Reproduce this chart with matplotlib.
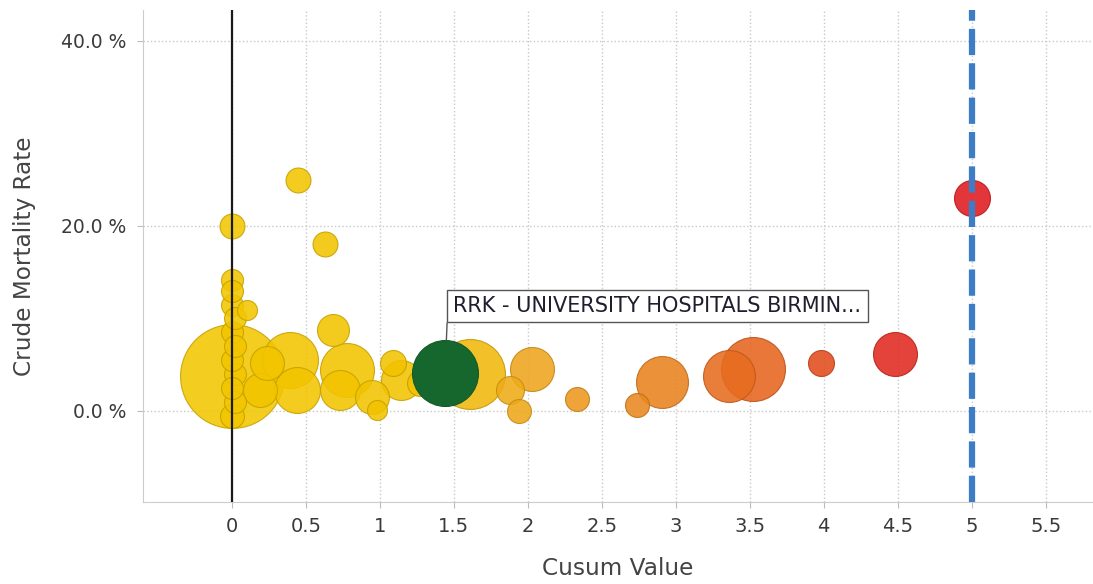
import numpy as np
import matplotlib.pyplot as plt
from matplotlib.colors import LinearSegmentedColormap, to_rgb
from matplotlib.ticker import FuncFormatter

plt.rcParams["font.family"] = ["DejaVu Sans"]

# 数据：Cusum 值、粗死亡率(%)、病例数(气泡大小)
cusum = [0.00, 0.00, 0.45, 0.63, 0.68, 0.10, 0.00, 0.00, 0.00, 0.02,
         0.00, 0.02, 0.00, 0.02, 0.00, 0.02, 0.00, 0.39, 0.44, 0.78,
         0.73, 0.95, 0.98, 1.14, 1.09, 1.27, 0.24, 0.19, 1.61, 1.44,
         1.88, 1.94, 2.03, 2.33, 2.74, 2.91, 3.36, 3.52, 3.98, 4.48, 5.00]
mortality = [3.8, 20.0, 25.0, 18.0, 8.8, 10.9, 14.2, 13.0, 11.5, 10.0,
             8.5, 7.0, 5.5, 4.0, 2.5, 1.0, -0.5, 5.5, 2.3, 4.4,
             2.3, 1.5, 0.1, 3.4, 5.2, 3.0, 5.2, 2.3, 4.0, 4.1,
             2.3, 0.0, 4.5, 1.3, 0.7, 3.1, 3.8, 4.5, 5.2, 6.2, 23.0]
cases = [2700, 156, 156, 156, 256, 100, 121, 121, 121, 121,
         121, 121, 121, 121, 121, 121, 144, 784, 529, 729,
         400, 289, 100, 400, 169, 169, 289, 289, 1225, 1089,
         196, 144, 484, 144, 144, 676, 676, 1024, 169, 484, 324]
trusts = [""] * len(cusum)
trusts[29] = "RRK - UNIVERSITY HOSPITALS BIRMIN..."
selected = 29
threshold = 5

cmap = LinearSegmentedColormap.from_list("cusum", [
    (0.0, "#f2c600"), (0.28, "#f2c200"), (0.40, "#eea51c"), (0.58, "#e8821e"),
    (0.70, "#e6661e"), (0.80, "#e24a1c"), (0.90, "#e0281e"), (1.0, "#e01a1e")])

fig = plt.figure(figsize=(10.93, 5.84), dpi=100)
ax = fig.add_axes([143 / 1093, 82 / 584, 950 / 1093, 492 / 584])

x = np.array(cusum)
y = np.array(mortality)
s = np.array(cases) * 2.07
colors = [cmap(v / threshold) for v in x]

order = [i for i in np.argsort(-s) if i != selected]
for i in order:
    edge = tuple(c * 0.82 for c in to_rgb(colors[i]))
    ax.scatter(x[i], y[i], s=s[i], color=colors[i], alpha=0.88,
               edgecolors=edge, linewidths=0.8, zorder=3)
ax.scatter(x[selected], y[selected], s=s[selected], color="#15672e",
           edgecolors="#125a28", linewidths=0.8, zorder=4)

ax.axvline(0, color="#1a1a1a", lw=1.6, zorder=5)
ax.axvline(threshold, color="#3c7dc6", lw=4.5, dashes=(4.2, 1.3),
           dash_capstyle="butt", zorder=5)

# 标签框，引线从框左下角垂直连到选中的气泡
r_pt = np.sqrt(s[selected]) / 2
ax.annotate(trusts[selected], xy=(x[selected], y[selected]),
            xytext=(6, 41), textcoords="offset points",
            ha="left", va="bottom", fontsize=15, color="#1e1e2e",
            bbox=dict(boxstyle="square,pad=0.3", fc="white", ec="#555555", lw=1),
            arrowprops=dict(arrowstyle="-", color="#555555", lw=1,
                            relpos=(-0.0145, 0), shrinkA=0, shrinkB=r_pt),
            zorder=6)

ax.set_xlim(-0.601, 5.82)
ax.set_ylim(-9.84, 43.35)
ax.set_xticks(np.arange(0, 6, 0.5))
ax.set_xticklabels(["0", "0.5", "1", "1.5", "2", "2.5", "3", "3.5", "4", "4.5", "5", "5.5"])
ax.set_yticks([0, 20, 40])
ax.yaxis.set_major_formatter(FuncFormatter(lambda v, p: f"{v:.1f} %"))

ax.grid(True, linestyle=":", color="#c8c8c8", lw=1)
ax.set_axisbelow(True)
for side in ["top", "right"]:
    ax.spines[side].set_visible(False)
for side in ["left", "bottom"]:
    ax.spines[side].set_color("#cccccc")
ax.tick_params(axis="both", colors="#bbbbbb", length=4, labelcolor="#3a3a3a")
ax.tick_params(axis="x", labelsize=14, pad=7)
ax.tick_params(axis="y", labelsize=13.5, pad=8)

ax.set_xlabel("Cusum Value", fontsize=16.7, color="#444444", labelpad=15)
ax.set_ylabel("Crude Mortality Rate", fontsize=16.7, color="#444444", labelpad=18)

fig.savefig("out.png", dpi=100)
